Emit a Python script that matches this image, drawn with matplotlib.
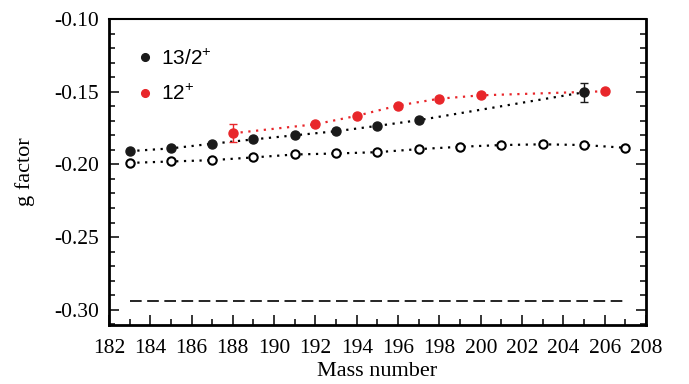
import matplotlib
matplotlib.use("Agg")
import matplotlib.pyplot as plt
from matplotlib.ticker import MultipleLocator

# --- data ---
mass_13_2 = [183, 185, 187, 189, 191, 193, 195, 197, 205]
g_13_2 = [-0.1909, -0.1890, -0.1858, -0.1828, -0.1800, -0.1772, -0.1735, -0.1696, -0.1504]
err_13_2 = [0, 0, 0, 0, 0, 0, 0, 0, 0.0064]

mass_12 = [188, 192, 194, 196, 198, 200, 206]
g_12 = [-0.1786, -0.1724, -0.1666, -0.1595, -0.1548, -0.1525, -0.1497]
err_12 = [0.0062, 0, 0, 0, 0, 0, 0]

mass_open = [183, 185, 187, 189, 191, 193, 195, 197, 199, 201, 203, 205, 207]
g_open = [-0.1990, -0.1980, -0.1971, -0.1952, -0.1932, -0.1925, -0.1916,
          -0.1895, -0.1879, -0.1867, -0.1862, -0.1867, -0.1886]

dash_mass = [183, 207]
dash_g = [-0.294, -0.294]

RED = "#e8262a"
SERIF = "Liberation Serif"
SANS = "Liberation Sans"


def main():
    plt.rcParams["font.family"] = [SERIF, "DejaVu Serif"]
    plt.rcParams["mathtext.fontset"] = "custom"
    plt.rcParams["mathtext.rm"] = SANS
    plt.rcParams["axes.unicode_minus"] = False

    fig = plt.figure(figsize=(6.89, 3.84), dpi=100)
    ax = fig.add_axes([0.158, 0.1536, 0.7797, 0.7969])

    dots = (0, (1, 2.5))
    ax.plot(mass_open, g_open, color="black", linestyle=dots, linewidth=1.6,
            marker="o", markersize=6, markerfacecolor="white",
            markeredgecolor="black", markeredgewidth=1.5)
    ax.plot(mass_13_2, g_13_2, color="black", linestyle=dots, linewidth=1.6)
    ax.plot(mass_12, g_12, color=RED, linestyle=dots, linewidth=1.6)

    # error bars only where an uncertainty was drawn
    e1 = [e if e > 0 else float("nan") for e in err_13_2]
    e2 = [e if e > 0 else float("nan") for e in err_12]
    ax.errorbar(mass_13_2, g_13_2, yerr=e1, fmt="none", ecolor="#1a1a1a",
                capsize=3, elinewidth=1, capthick=1)
    ax.errorbar(mass_12, g_12, yerr=e2, fmt="none", ecolor=RED,
                capsize=3, elinewidth=1, capthick=1)

    ax.plot(mass_13_2, g_13_2, "o", color="#1a1a1a", markersize=6.5,
            label=r"$\mathregular{13/2^{+}}$")
    ax.plot(mass_12, g_12, "o", color=RED, markersize=6.5,
            label=r"$\mathregular{12^{+}}$")

    ax.plot(dash_mass, dash_g, color="black", linestyle=(0, (7, 3.3)), linewidth=1.2)

    ax.set_xlim(182, 208)
    ax.set_ylim(-0.3105, -0.10)
    ax.xaxis.set_major_locator(MultipleLocator(2))
    ax.xaxis.set_minor_locator(MultipleLocator(1))
    ax.yaxis.set_major_locator(MultipleLocator(0.05))
    ax.yaxis.set_minor_locator(MultipleLocator(0.01))
    ax.yaxis.set_major_formatter(plt.FuncFormatter(lambda v, p: f"{v:.2f}"))
    ax.tick_params(which="both", direction="in", top=False, right=True, width=1.1)
    ax.tick_params(which="major", length=7)
    ax.tick_params(which="minor", length=4)
    ax.tick_params(axis="both", labelsize=15.5)
    ax.tick_params(axis="x", pad=10)
    ax.tick_params(axis="y", pad=7)
    for s in ax.spines.values():
        s.set_linewidth(2)
    ax.spines["top"].set_linewidth(1.5)

    ax.set_xlabel("Mass number", fontsize=16, labelpad=3)
    ax.set_ylabel("g factor", fontsize=16, labelpad=14)

    ax.legend(loc="upper left", bbox_to_anchor=(0.01, 0.965),
              frameon=False, prop={"family": SANS, "size": 15},
              handletextpad=0.15, handlelength=1.2, labelspacing=0.75,
              markerscale=0.85)

    fig.savefig("out.png", dpi=100)


if __name__ == "__main__":
    main()
